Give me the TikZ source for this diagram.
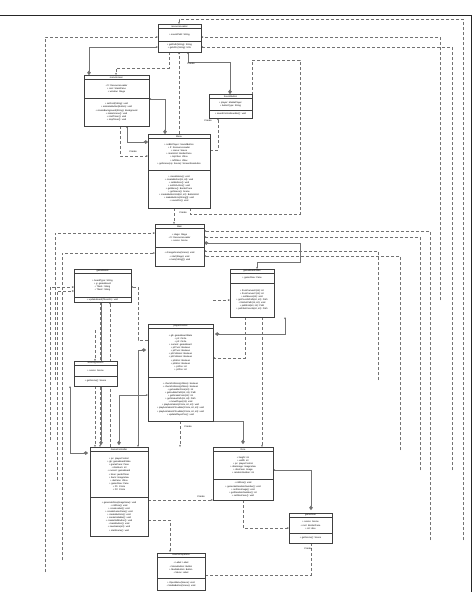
\documentclass[tikz,border=0pt]{standalone}
\usepackage{fontspec}
\setmainfont{Liberation Sans}
\usetikzlibrary{arrows.meta}
\tikzset{
  box/.style={draw=black!75, line width=0.4pt, fill=white, inner sep=0pt, anchor=north west},
  sepl/.style={draw=black!75, line width=0.35pt},
  txt/.style={font=\fontsize{2.3}{3.1}\selectfont, inner sep=0pt, align=center},
  lbl/.style={font=\fontsize{2.4}{3}\selectfont, inner sep=0.6pt},
  dep/.style={densely dashed, draw=black!55, line width=0.3pt, -{Stealth[length=2.2pt,width=1.8pt]}},
  assoc/.style={draw=black!55, line width=0.3pt, -{Stealth[length=2.2pt,width=1.8pt]}},
  comp/.style={draw=black!55, line width=0.3pt, {Diamond[length=4.5pt,width=3.5pt]}-{Stealth[length=2.2pt,width=1.8pt]}},
  frame/.style={draw=black!85, line width=0.8pt},
}
\newcommand\umlbox[9]{%
  \node[box, minimum width={(#4-#2)*1pt}, minimum height={(#5-#3)*1pt}] (#1) at (#2,#3) {};
  \draw[sepl] (#2,{#3+4.5}) -- (#4,{#3+4.5});
  \draw[sepl] (#2,#6) -- (#4,#6);
  \node[txt] at ({(#2+#4)/2},{#3+2.3}) {#7};
  \node[txt] at ({(#2+#4)/2},{(#3+4.5+#6)/2}) {#8};
  \node[txt] at ({(#2+#4)/2},{(#6+#5)/2}) {#9};
}
\begin{document}
\begin{tikzpicture}[x=1pt,y=-1pt]
\useasboundingbox (0,0) rectangle (474,605);
\fill[white] (0,0) rectangle (474,605);
\draw[frame] (0,15) -- (471,15) -- (471,592);

% ---------- connectors (drawn first, boxes on top) ----------
\coordinate (k1) at (188,62);
\coordinate (k2) at (116,68);
\draw[dep] (463,540) |- (179,19) -- (179,24);
\draw[dep] (45,572) |- (158,37);
\draw[dep] (440,300) |- (201,37);
\draw[dep] (452,470) |- (201,47);
\draw[comp] (89,75) |- (158,47);
\draw[dep] (169,52) |- (k2) -- (116,75);
\draw[comp] (230,94) |- (k1) -- (188,52);
\draw[dep] (179,134) -- (179,52);
\draw[comp] (165,134) |- (149,99);
\draw[comp] (148,142) -| (127,126);
\node[lbl] at (191,64) {Create};
\draw[dep] (210,150) -| (218,118);
\node[lbl] at (208,121) {Create};
\draw[dep] (120,126) |- (134,156) -- (148,156);
\node[lbl] at (133,152) {Create};
\draw[dep] (174,208) -- (174,224);
\node[lbl] at (183,213) {Create};
\draw[dep] (190,208) |- (300,214) -- (300,60) -| (252,106);
\draw[dep] (430,540) |- (204,231);
\draw[dep] (420,470) |- (204,237);
\draw[comp] (204,243) -| (300,262) -| (257,269);
\draw[dep] (378,380) |- (204,251);
\draw[dep] (400,450) |- (204,256);
\draw[dep] (55,380) |- (155,233);
\draw[dep] (62,560) |- (155,253);
\draw[dep] (50,440) |- (74,287);
\draw[dep] (57,480) |- (74,291);
\draw[dep] (148,340) -| (138,287) -- (131,287);
\draw[dep] (100,302) -- (100,447);
\draw[dep] (110,447) -- (110,302);
\draw[dep] (213,300) -- (230,300);
\draw[dep] (245,317) |- (213,358);
\draw[dep] (262,317) -- (262,447);
\draw[comp] (215,334) -| (285,317) ;
\draw[comp] (146,350) -| (138,447);
\draw[dep] (180,421) -- (180,447);
\node[lbl] at (188,427) {Create};
\draw[dep] (95,330) -- (95,361);
\draw[dep] (95,386) -- (95,447);
\draw[comp] (101,445) -- (101,302);
\draw[comp] (119,445) |- (148,395);
\draw[comp] (88,453) -| (70,386);
\draw[dep] (148,500) -- (213,500);
\node[lbl] at (201,497) {Create};
\draw[comp] (243,444) -- (243,421) -| (213,410);
\draw[dep] (243,500) |- (289,528);
\draw[comp] (311,510) |- (273,470);
\draw[dep] (311,543) |- (181,575) -- (181,590);
\node[lbl] at (308,549) {Create};
\draw[dep] (148,520) -| (170,552);

% ---------- boxes ----------
\umlbox{RL}{158}{24}{201}{52}{41}{resourceLoader}{+ soundPath: String}{+ getPath(String): String\\+ getURL(String): URL}
\umlbox{ms}{84}{75}{149}{126}{98}{menuScreen}{+ fr: ResourceLoader\\+ root: StackPane\\+ window: Stage}{+ setFont(String): void\\+ animateButton(Button): void\\+ createBackground(String): Background\\+ makeScene(): void\\+ startTimer(): void\\+ stopTimer(): void}
\umlbox{sb}{209}{94}{252}{118}{110}{SoundButton}{+ player: MediaPlayer\\+ buttonType: String}{+ soundControlHandler(): void}
\umlbox{menu}{148}{134}{210}{208}{170}{Menu}{+ soBtnPlayer: SoundButton\\+ fr: ResourceLoader\\+ scene: Scene\\+ mainGrid: BorderPane\\+ topVbox: VBox\\+ leftVbox: VBox\\+ getScene(op: Scene): ScreenResolution}{+ createMenu(): void\\+ createButton(int, int): void\\+ setButtons(): void\\+ setOnAction(): void\\+ getMenu(): BorderPane\\+ getScene(): Scene\\+ createButtonGrid(int, int): ButtonGrid\\+ makeButtons(String[]): void\\+ soundOn(): void}
\umlbox{main}{155}{224}{204}{266}{247}{Main}{+ stage: Stage\\+ fr: ResourceLoader\\+ scene: Scene}{+ changeScene(Scene): void\\+ start(Stage): void\\+ main(String[]): void}
\umlbox{gb}{74}{269}{131}{302}{297}{gameBoard}{+ boardType: String\\+ g: gameBoard\\+ Tiles1: String\\+ Tiles2: String}{+ updateBoard(TilesetIn): void}
\umlbox{gbs}{230}{269}{274}{317}{283}{gameBoardState}{+ gameFlow: Pane}{+ fromCanvasX(int): int\\+ fromCanvasY(int): int\\+ setMoves(int): void\\+ getCoordsPath(int, int): Path\\+ tileGetPath(int, int): void\\+ pathEnd(int, int): Path\\+ pathSetCoords(int, int): Path}
\umlbox{pc}{148}{324}{213}{421}{377}{playerControl}{+ gb: gameBoardState\\+ p1: Circle\\+ p2: Circle\\+ current: gameBoard\\+ p1Turn: Boolean\\+ p2Turn: Boolean\\+ p1Collision: Boolean\\+ p2Collision: Boolean\\+ p1Won: Boolean\\+ p2Won: Boolean\\+ p1Pos: int\\+ p2Pos: int}{+ checkCollision(p1Won): boolean\\+ checkCollision(p2Won): boolean\\+ getLadderFrom(int): int\\+ getLadderPath(int, int): Path\\+ getSnakeFrom(int): int\\+ getSnakePath(int, int): Path\\+ movePlayer(int): void\\+ playAnimation(Circle, int, int): void\\+ playAnimationP1Ladder(Circle, int, int): void\\+ playAnimationP2Ladder(Circle, int, int): void\\+ updatePlayerPos(): void}
\umlbox{ws}{74}{361}{117}{386}{376}{WinningScreen}{+ scene: Scene}{+ getScene(): Scene}
\umlbox{gc}{90}{447}{148}{536}{497}{GameController}{+ pc: playerControl\\+ gb: gameBoardState\\+ gamePane: Pane\\+ diceNum: int\\+ current: gameBoard\\+ timer: javafxTimer\\+ back: ImageView\\+ diePane: VBox\\+ gameFlow: Pane\\+ P1: Circle\\+ P2: Circle}{+ generateDice(ImageView): void\\+ rollDice(): void\\+ createLabel(): void\\+ createGamePane(): void\\+ createButtons(): void\\+ createSideBar(): void\\+ createRollButton(): void\\+ backButton(): void\\+ newGame(int): void\\+ startGame(): void}
\umlbox{dice}{213}{447}{273}{500}{479}{Dice}{+ height: int\\+ width: int\\+ pc: playerControl\\+ diceImage: ImageView\\+ diceFace: Image\\+ randomNumber: int}{+ rollDice(): void\\+ generateRandomNumber(): void\\+ setDiceImage(): void\\+ getRandomNumber(): int\\+ setDiceFace(): void}
\umlbox{go}{289}{513}{332}{543}{533}{gameOver}{+ scene: Scene\\+ root: BorderPane\\+ int: dice}{+ getScene(): Scene}
\umlbox{htp}{157}{553}{205}{590}{578}{HowToPlayMenu}{+ Label: Label\\+ MenuButton: Button\\+ MediaButton: Button\\+ Menu: Label}{+ OpenMenu(Scene): void\\+ MediaButton(Scene): void}
\end{tikzpicture}
\end{document}
